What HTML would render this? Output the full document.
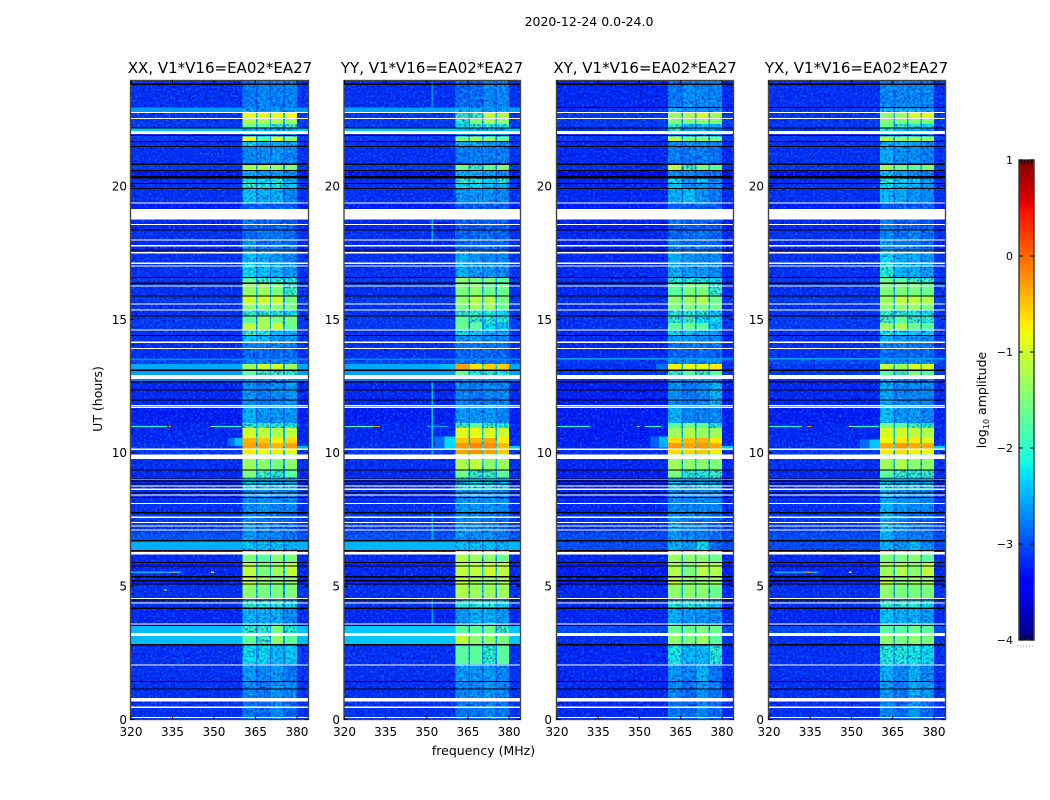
<!DOCTYPE html>
<html lang="en">
<head>
<meta charset="utf-8">
<title>2020-12-24 0.0-24.0 amplitude waterfalls</title>
<style>
html,body{margin:0;padding:0;background:#fff;width:1050px;height:800px;overflow:hidden}
svg{display:block;font-family:"DejaVu Sans","Liberation Sans",sans-serif;fill:#000}
</style>
</head>
<body>
<svg id="figure" xmlns="http://www.w3.org/2000/svg" width="1050" height="800" viewBox="0 0 1050 800">
  <defs>
    <filter id="speckle-light" x="0" y="0" width="100%" height="100%" color-interpolation-filters="sRGB">
      <feTurbulence type="fractalNoise" baseFrequency="0.45" numOctaves="1" seed="4"/>
      <feColorMatrix type="matrix" values="0 0 0 0 0  0 0 0 0 0.62  0 0 0 0 1  3.2 0 0 0 -1.45"/>
    </filter>
    <filter id="speckle-dark" x="0" y="0" width="100%" height="100%" color-interpolation-filters="sRGB">
      <feTurbulence type="fractalNoise" baseFrequency="0.45" numOctaves="1" seed="11"/>
      <feColorMatrix type="matrix" values="0 0 0 0 0  0 0 0 0 0  0 0 0 0 0.6  3.2 0 0 0 -1.45"/>
    </filter>
    <filter id="speckle-window" x="0" y="0" width="100%" height="100%" color-interpolation-filters="sRGB">
      <feTurbulence type="fractalNoise" baseFrequency="0.3" numOctaves="2" seed="23"/>
      <feColorMatrix type="matrix" values="0 0 0 0 0  0 0 0 0 0.9  0 0 0 0 0.95  3.6 0 0 0 -1.7"/>
    </filter>
  </defs>

  <text x="589" y="26" font-size="12.5" text-anchor="middle">2020-12-24 0.0-24.0</text>

  <text x="220" y="73" font-size="15" text-anchor="middle">XX, V1*V16=EA02*EA27</text>
  <text x="432" y="73" font-size="15" text-anchor="middle">YY, V1*V16=EA02*EA27</text>
  <text x="645" y="73" font-size="15" text-anchor="middle">XY, V1*V16=EA02*EA27</text>
  <text x="856.5" y="73" font-size="15" text-anchor="middle">YX, V1*V16=EA02*EA27</text>

  <g id="panels"></g>

  <text font-size="12.5" text-anchor="middle" transform="translate(102 399) rotate(-90)">UT (hours)</text>
  <text x="483.5" y="755" font-size="12.5" text-anchor="middle">frequency (MHz)</text>

  <g id="colorbar"></g>
  <text font-size="12.5" text-anchor="middle" transform="translate(986 400) rotate(-90)">log<tspan font-size="8" dy="3">10</tspan><tspan dy="-3"> amplitude</tspan></text>
  <line x1="1017" y1="646" x2="1035" y2="646" stroke="#999" stroke-width="1" stroke-dasharray="1 2"/>
</svg>

<script>
// ---------- data ----------
// Frequency column edges (MHz): background, then four spectral windows with small gaps.
const freqEdges = [320, 360.4, 365.2, 365.8, 370.2, 370.7, 375, 375.6, 380, 384];
const xTicks = [320, 335, 350, 365, 380];
const yTicks = [0, 5, 10, 15, 20];
const colorbarTicks = [1, 0, -1, -2, -3, -4];

// Time band edges (UT hours), top to bottom.
const timeEdges = [23.95,22.94,22.75,22.53,22.32,22.15,22.06,21.85,21.66,21.48,
  20.80,20.58,20.37,20.09,19.90,19.36,19.13,18.74,18.55,18.35,
  17.97,17.79,17.60,17.11,16.59,16.34,15.87,15.57,15.35,15.12,
  14.87,14.60,14.37,14.15,13.92,13.53,13.32,13.08,12.91,12.69,
  11.79,11.11,10.93,10.55,10.36,10.14,9.95,9.35,9.09,8.60,
  7.78,7.00,6.69,6.32,5.87,5.38,5.04,4.55,4.14,3.50,
  3.24,3.13,2.83,2.08,1.44,0.81,0.66,0];

// log10 amplitude per time band: [background, window 1, window 2, window 3, window 4]
const xxValues = [
[-3.15,-2.8,-2.7,-2.75,-2.7],[-2.62,-2.6,-2.6,-2.6,-2.6],[-3.1,-.85,-.9,-.85,-.8],[-3.1,-1.2,-1.25,-1.2,-1.3],[-3.1,-1.6,-1.7,-1.8,-1.8],
[-2.42,-2.35,-2.35,-2.35,-2.45],[-3.1,-2.6,-2.6,-2.6,-2.6],[-3.1,-.85,-1.7,-.95,-1.4],[-3.15,-2.2,-2.45,-2.45,-2.45],[-3.15,-2.7,-2.65,-2.6,-2.7],
[-3.1,-1.3,-1.2,-1.4,-1.5],[-3.3,-2.45,-2.6,-2.6,-2.7],[-3.15,-2,-2.2,-2,-2.35],[-3.15,-1.9,-2,-2,-2.35],[-3.15,-2.35,-2.45,-2.45,-2.7],
[-3.25,-3,-3,-3,-3],[-3.2,-3,-3,-3,-3],[-3.2,-2.8,-3,-2.95,-3],[-3.2,-2.9,-2.95,-2.95,-2.95],[-3.15,-2.9,-2.8,-2.8,-2.9],
[-3.2,-2.6,-2.9,-2.8,-2.9],[-3.2,-2.6,-2.7,-2.7,-2.8],[-3.15,-2.35,-2.45,-2.6,-2.7],[-3.15,-2.2,-2.35,-2.45,-2.6],[-3.1,-1.7,-1.8,-1.9,-2],
[-3.15,-1.35,-1.3,-1.5,-1.8],[-3.1,-1.05,-1,-1.05,-1.5],[-3.15,-1.4,-1.4,-1.4,-1.5],[-3.15,-1.9,-1.9,-2,-2.2],[-3.1,-1.7,-1.3,-1.5,-1.5],
[-3.1,-1.1,-1.2,-1.05,-1.6],[-3.15,-1.8,-2,-2.35,-2.45],[-3.15,-2.35,-2.35,-2.6,-2.6],[-3.15,-2.7,-2.7,-2.7,-2.8],[-3.15,-2.9,-2.9,-2.9,-2.9],
[-3,-2.7,-2.7,-2.7,-2.7],[-2.55,-1.3,-1,-1,-1.3],[-2.6,-1.7,-1.8,-1.8,-1.9],[-2.75,-2.6,-2.6,-2.6,-2.6],[-3.2,-2.65,-2.8,-2.7,-2.6],
[-3.25,-2.45,-2.6,-2.6,-2.6],[-3.2,-1.9,-1.8,-1.9,-2],[-3.2,-1,-1.1,-1.2,-1.1],[-3.2,-.4,-.5,-.7,-.6],[-3.15,-.3,-.3,-.4,-.3],
[-3.1,-.7,-.8,-.7,-.8],[-3.15,-1.3,-1.4,-1.5,-1.4],[-3.2,-1.5,-1.8,-1.9,-1.7],[-3.15,-2.2,-2.35,-2.35,-2.35],[-3.15,-2.7,-2.6,-2.7,-2.7],
[-3.1,-2.7,-2.8,-2.9,-2.95],[-2.95,-2.6,-2.7,-2.7,-2.8],[-2.52,-2.35,-2.35,-2.35,-2.45],[-3.2,-1.5,-1.7,-1.4,-1.5],[-3.2,-1.1,-1.5,-1.3,-1.1],
[-3.2,-1.05,-1.3,-1.4,-1.4],[-3.15,-1.4,-1.5,-1.5,-1.5],[-3.15,-1.9,-2,-2,-2.2],[-3.2,-2.45,-2.45,-2.45,-2.7],[-2.45,-1.9,-1.9,-1.5,-2],
[-2.45,-2,-2,-2,-2],[-2.45,-1.7,-1.8,-1.4,-1.7],[-3.15,-2.2,-2.2,-2.4,-2.3],[-3.15,-2.6,-2.7,-2.6,-2.8],[-3.15,-2.7,-2.8,-2.6,-2.7],
[-3.15,-2.8,-2.8,-2.8,-2.8],[-3.15,-2.8,-2.9,-2.7,-2.9]];

const yyValues = [
[-3.15,-2.9,-2.9,-2.7,-2.7],[-2.58,-2.45,-2.45,-2.6,-2.6],[-3.1,-1.9,-1.8,-1.1,-1.2],[-3.1,-2,-1.5,-1.3,-1.4],[-3.1,-2.2,-1.9,-2,-2],
[-2.4,-2.35,-2.35,-2.35,-2.45],[-3.1,-2.6,-2.6,-2.6,-2.6],[-3.1,-1.5,-1.3,-1.4,-1.6],[-3.15,-2.45,-2.45,-2.6,-2.7],[-3.15,-2.8,-2.75,-2.75,-2.8],
[-3.1,-1.6,-1.8,-1.7,-1.5],[-3.3,-2.45,-2.45,-2.6,-2.7],[-3.15,-1.9,-1.9,-2.2,-2],[-3.15,-2.2,-2.2,-2.35,-2.45],[-3.15,-2.6,-2.6,-2.65,-2.7],
[-3.25,-3,-3,-3,-3],[-3.2,-3,-3,-3,-3],[-3.2,-2.95,-3,-2.95,-3],[-3.2,-2.95,-2.95,-2.95,-2.95],[-3.15,-2.95,-2.9,-2.9,-2.95],
[-3.2,-2.9,-2.9,-2.9,-2.95],[-3.2,-2.9,-2.9,-2.9,-2.95],[-3.15,-2.45,-2.6,-2.7,-2.7],[-3.15,-2.45,-2.6,-2.6,-2.7],[-3.1,-1.4,-1.5,-1.5,-1.7],
[-3.15,-1.5,-1.4,-1.6,-1.6],[-3.1,-1.4,-1.2,-1.2,-1.5],[-3.15,-1.5,-1.3,-1.3,-1.6],[-3.15,-1.9,-1.9,-2,-2.2],[-3.1,-1.7,-1.8,-2,-2],
[-3.1,-1.6,-1.7,-2.2,-2.35],[-3.15,-2.2,-2.35,-2.45,-2.45],[-3.15,-2.6,-2.6,-2.7,-2.7],[-3.15,-2.8,-2.8,-2.8,-2.8],[-3.15,-2.9,-2.9,-2.9,-2.9],
[-3,-2.8,-2.8,-2.8,-2.8],[-2.55,-.3,-.65,-.55,-.55],[-2.6,-1.6,-2,-1.9,-2],[-2.75,-2.7,-2.7,-2.7,-2.7],[-3.2,-2.7,-2.8,-2.7,-2.7],
[-3.25,-2.6,-2.6,-2.6,-2.7],[-3.2,-1.8,-1.7,-1.8,-2],[-3.2,-.9,-.85,-.95,-1],[-3.2,-.5,-.4,-.35,-.7],[-3.15,-.25,-.15,-.2,-.45],
[-3.1,-.3,-.2,-.3,-.5],[-3.15,-1.2,-1.1,-1.4,-1.3],[-3.2,-1.6,-1.8,-1.8,-1.7],[-3.15,-2.2,-2.2,-2.2,-2.35],[-3.15,-2.6,-2.6,-2.6,-2.7],
[-3.1,-2.7,-2.7,-2.8,-2.9],[-2.95,-2.6,-2.7,-2.6,-2.8],[-2.48,-2.35,-2.35,-2.35,-2.45],[-3.2,-1.2,-1.3,-1.4,-1.6],[-3.2,-1.1,-1.1,-1,-1.1],
[-3.2,-1.1,-1.3,-1.3,-1.2],[-3.15,-1.2,-1.3,-1.3,-1.3],[-3.15,-2,-2,-2,-2.2],[-3.2,-2.6,-2.45,-2.45,-2.6],[-2.4,-1.7,-1.7,-1.6,-1.8],
[-2.4,-2,-2,-2,-2],[-2.4,-1.05,-1.4,-1.4,-1.5],[-3.15,-1.7,-1.7,-1.9,-1.7],[-3.15,-2.6,-2.6,-2.6,-2.7],[-3.15,-2.7,-2.7,-2.6,-2.7],
[-3.15,-2.8,-2.8,-2.8,-2.8],[-3.15,-2.8,-2.8,-2.7,-2.8]];

const xyValues = [
[-3.2,-2.8,-2.65,-2.7,-2.7],[-3.15,-2.45,-2.6,-2.6,-2.7],[-3.1,-1.3,-1.2,-.95,-1.3],[-3.1,-1.5,-1.5,-1.4,-1.5],[-3.1,-1.9,-2.45,-2.35,-2.45],
[-3.1,-1.9,-2.6,-2.45,-2.6],[-3.1,-2.6,-2.6,-2.6,-2.6],[-3.1,-1.1,-1.5,-1.4,-1.6],[-3.2,-2.7,-2.7,-2.7,-2.7],[-3.2,-2.75,-2.8,-2.75,-2.85],
[-3.15,-1.15,-1.8,-1.5,-1.7],[-3.4,-2.7,-2.7,-2.8,-2.9],[-3.2,-2.2,-2.6,-2.35,-2.7],[-3.2,-2.35,-2.7,-2.6,-2.7],[-3.2,-2.45,-2.35,-2.6,-2.8],
[-3.25,-2.95,-3,-3,-3],[-3.25,-3,-3,-3,-3],[-3.25,-2.8,-3,-2.95,-3],[-3.25,-2.95,-2.95,-2.95,-3],[-3.2,-2.95,-2.9,-2.8,-2.95],
[-3.25,-2.7,-2.9,-2.9,-2.9],[-3.25,-2.7,-2.8,-2.8,-2.9],[-3.2,-2.45,-2.6,-2.7,-2.7],[-3.2,-2.45,-2.6,-2.6,-2.7],[-3.15,-1.9,-2,-2,-2.2],
[-3.2,-1.7,-1.5,-1.5,-1.9],[-3.15,-1.4,-1.3,-1.2,-1.6],[-3.2,-1.5,-1.5,-1.5,-1.6],[-3.2,-2,-2,-2,-2.35],[-3.15,-1.9,-1.8,-2.2,-2.2],
[-3.15,-1.7,-1.6,-1.7,-2.35],[-3.2,-2.2,-2.35,-2.45,-2.6],[-3.2,-2.6,-2.6,-2.7,-2.7],[-3.2,-2.8,-2.8,-2.8,-2.8],[-3.2,-2.95,-2.95,-2.9,-2.95],
[-3.1,-2.7,-2.7,-2.7,-2.7],[-3.15,-.75,-.85,-.8,-.7],[-3.1,-1.8,-1.7,-1.8,-1.7],[-3.15,-2.6,-2.6,-2.6,-2.6],[-3.25,-2.65,-2.8,-2.7,-2.45],
[-3.25,-2.45,-2.7,-2.7,-2.7],[-3.25,-1.7,-1.6,-1.7,-2],[-3.25,-1.3,-1.2,-1.3,-1.3],[-3.25,-.6,-.45,-.4,-.7],[-3.2,-.25,-.3,-.25,-.35],
[-3.15,-.6,-.6,-.5,-.7],[-3.2,-1.3,-1.4,-1.4,-1.5],[-3.25,-1.5,-1.9,-2,-1.8],[-3.2,-2.35,-2.45,-2.35,-2.45],[-3.2,-2.7,-2.7,-2.7,-2.7],
[-3.15,-2.6,-2.8,-2.8,-2.95],[-3,-2.6,-2.7,-2.7,-2.9],[-3,-2.45,-2.6,-2.2,-2.9],[-3.2,-1.3,-1.4,-1.4,-1.6],[-3.25,-1.2,-1.5,-1.1,-1.2],
[-3.25,-1.1,-1.4,-1.3,-1.3],[-3.2,-1.4,-1.4,-1.4,-1.6],[-3.2,-2,-2,-2,-2.35],[-3.2,-2.45,-2.6,-2.6,-2.7],[-3,-1.6,-1.6,-1.5,-1.6],
[-3,-2,-2,-2,-2],[-3.15,-1.4,-1.5,-1.3,-1.7],[-3.2,-2.1,-2.4,-2.4,-2],[-3.2,-2.6,-2.7,-2.45,-2.8],[-3.2,-2.7,-2.9,-2.6,-2.8],
[-3.2,-2.8,-2.8,-2.8,-2.8],[-3.2,-2.8,-2.9,-2.7,-2.9]];

const yxValues = [
[-3.15,-2.7,-2.7,-2.7,-2.7],[-3.1,-2.45,-2.45,-2.45,-2.6],[-3.1,-1.4,-1.3,-.9,-.9],[-3.1,-1.5,-1.5,-1.5,-1.5],[-3.1,-1.6,-1.8,-2,-2.2],
[-3.1,-2,-2.35,-2.45,-2.6],[-3.1,-2.6,-2.6,-2.6,-2.6],[-3.1,-1.2,-1.4,-1.3,-1.4],[-3.15,-2.45,-2.45,-2.6,-2.7],[-3.15,-2.5,-2.65,-2.65,-2.75],
[-3.1,-1.3,-1.6,-1.7,-1.5],[-3.35,-2.35,-2.6,-2.7,-2.8],[-3.15,-2,-2.2,-2.35,-2.6],[-3.15,-2.2,-2.35,-2.45,-2.6],[-3.15,-2.4,-2.5,-2.6,-2.7],
[-3.25,-2.95,-3,-3,-3],[-3.2,-3,-3,-3,-3],[-3.2,-2.7,-2.95,-2.95,-3],[-3.2,-2.8,-2.95,-2.95,-2.95],[-3.15,-2.7,-2.9,-2.7,-2.9],
[-3.2,-2.6,-2.8,-2.8,-2.9],[-3.2,-2.6,-2.7,-2.7,-2.8],[-3.15,-2.2,-2.45,-2.45,-2.6],[-3.15,-2,-2.45,-2.45,-2.6],[-3.1,-1.6,-1.7,-1.8,-1.9],
[-3.15,-1.5,-1.5,-1.5,-1.6],[-3.1,-1.3,-1.1,-1.1,-1.2],[-3.15,-1.4,-1.4,-1.3,-1.5],[-3.15,-1.9,-1.9,-2,-2.2],[-3.1,-1.8,-1.7,-1.8,-1.9],
[-3.1,-1.3,-1.2,-1.6,-1.7],[-3.15,-2,-2.2,-2.35,-2.35],[-3.15,-2.45,-2.6,-2.7,-2.7],[-3.15,-2.7,-2.7,-2.8,-2.8],[-3.15,-2.9,-2.9,-2.9,-2.9],
[-3,-2.7,-2.7,-2.7,-2.7],[-3.1,-1.1,-1.3,-.9,-.95],[-3.1,-1.7,-1.8,-1.5,-1.7],[-3.15,-2.45,-2.6,-2.6,-2.7],[-3.2,-2.5,-2.7,-2.7,-2.7],
[-3.25,-2.35,-2.6,-2.6,-2.7],[-3.2,-1.6,-1.7,-1.8,-2],[-3.2,-.95,-1,-1.1,-1.2],[-3.2,-.8,-.7,-.7,-.9],[-3.15,-.35,-.25,-.35,-.35],
[-3.1,-.7,-.6,-.7,-.8],[-3.15,-1.3,-1.2,-1.4,-1.4],[-3.2,-1.7,-1.8,-1.9,-1.8],[-3.15,-2.2,-2.35,-2.35,-2.35],[-3.15,-2.45,-2.6,-2.7,-2.7],
[-3.1,-2.45,-2.7,-2.9,-2.9],[-3,-2.45,-2.7,-2.7,-2.8],[-3,-2.45,-2.6,-2.35,-2.7],[-3.2,-1.5,-1.5,-1.4,-1.7],[-3.2,-1.3,-1.2,-1.4,-1.1],
[-3.2,-1.1,-1.4,-1.3,-1.3],[-3.15,-1.4,-1.5,-1.5,-1.5],[-3.15,-1.9,-2,-2,-2.2],[-3.2,-2.35,-2.45,-2.45,-2.6],[-3,-1.7,-1.7,-1.6,-1.7],
[-3,-2,-2,-2,-2],[-3.15,-1.4,-1.5,-1.4,-1.5],[-3.15,-2,-2,-2.1,-2.2],[-3.15,-2.45,-2.7,-2.45,-2.7],[-3.15,-2.6,-2.8,-2.45,-2.6],
[-3.15,-2.8,-2.8,-2.8,-2.8],[-3.15,-2.7,-2.9,-2.6,-2.9]];

// Flagged (blank) time intervals, UT hours: [start, end]
const whiteBands = [[21.94,22.06],[18.74,19.13],[17.73,17.79],[17.47,17.53],[12.76,12.91],[9.76,9.94],[6.18,6.28],[3.13,3.24],[0.67,0.80]];
const whiteLines = [22.75,22.53,19.36,18.56,17.97,17.10,17.00,16.25,15.57,15.35,14.60,14.14,13.91,11.76,11.69,10.13,9.00,8.75,8.63,8.41,8.10,7.58,7.39,7.26,7.11,4.54,4.36,3.58,2.05,0.46,0.07];
const blackBands = [[20.27,20.37],[2.78,2.83]];
const blackLines = [23.81,22.17,21.89,21.66,21.48,20.81,20.58,20.09,19.91,18.34,17.59,16.57,16.35,15.88,15.12,14.39,13.09,12.66,12.35,11.97,9.35,9.01,8.93,8.83,8.49,8.32,7.75,6.70,6.34,5.88,5.75,5.35,5.20,5.08,4.48,4.17,3.53,1.43,1.14];
const crossHandBlackLines = [22.94];

// Narrow interference features per panel: [start MHz, end MHz, start h, end h, log10 amplitude]
const xxFeatures = [[320,333,10.96,11.0,-2.1],[333.5,334.5,10.96,11.0,-.1],[349,350,10.96,11.0,-.9],[350,360,10.96,11.0,-2.1],[355,357.5,10.25,10.55,-2.85],[357.5,360.4,10.25,10.55,-2.45],[380,384,10.1,10.25,-2.5],[320,338,5.5,5.54,-2.5],[335,336,5.5,5.54,-.2],[349,350,5.5,5.54,-.9],[332,333,4.83,4.87,-1],[320,384,13.48,13.53,-2.7]];
const yyFeatures = [[320,333,10.96,11.0,-1.9],[331,332.5,10.96,11.0,-.2],[350,358,10.96,11.0,-2.6],[351.8,352.3,9.95,12.69,-2.4],[351.8,352.3,6.3,7.8,-2.5],[351.8,352.3,3.6,4.6,-2.6],[351.8,352.3,17.9,19,-2.5],[353,356.5,10.14,10.6,-2.85],[356.5,360.4,10.14,10.6,-2.3],[380,384,10.1,10.25,-2.4],[355,360.4,13.08,13.32,-2.45],[320,384,13.48,13.53,-2.7],[351.8,352.3,22.9,23.9,-2.7]];
const xyFeatures = [[320,332,10.96,11.0,-2.1],[349,350,10.96,11.0,-1.6],[352,358,10.96,11.0,-2.1],[354,357,10.2,10.6,-2.9],[357,360.4,10.2,10.6,-2.5],[380,384,10.1,10.25,-2.4],[320,384,13.5,13.55,-2.6],[356,360.4,13.08,13.32,-2.85]];
const yxFeatures = [[320,332,10.96,11.0,-2.1],[334,335.5,10.96,11.0,-.2],[349,350,10.96,11.0,-.9],[350,360,10.96,11.0,-2.1],[353,356.5,10.15,10.5,-2.85],[356.5,360.4,10.15,10.5,-2.4],[380,384,10.1,10.25,-2.4],[322,338,5.5,5.54,-2.5],[333.5,335,5.5,5.54,-.2],[349,350,5.5,5.54,-.9],[320,384,13.5,13.55,-2.6]];

// ---------- layout and scales ----------
const SVG_NS = 'http://www.w3.org/2000/svg';
const panelBoxes = [
  {key: 'xx', left: 131, right: 308, values: xxValues, features: xxFeatures, cross: false, labelRight: 127},
  {key: 'yy', left: 344.5, right: 520, values: yyValues, features: yyFeatures, cross: false, labelRight: 340},
  {key: 'xy', left: 557, right: 733, values: xyValues, features: xyFeatures, cross: true, labelRight: 552},
  {key: 'yx', left: 769, right: 945, values: yxValues, features: yxFeatures, cross: true, labelRight: 764}
];
const plotTop = 80.5, plotBottom = 719.5;
const freqMin = 320, freqMax = 384, timeMin = 0, timeMax = 23.95;
const colorMin = -4, colorMax = 1;
const cbLeft = 1019, cbRight = 1034, cbTop = 160, cbBottom = 640;
// amplitudes above this are smooth signal; below it the noise grain shows through
const smoothAbove = -1.75, smoothBandAbove = -2.8;

function yScale(h) { return plotBottom - (h - timeMin) / (timeMax - timeMin) * (plotBottom - plotTop); }
function xScaleFor(box) { return function (f) { return box.left + (f - freqMin) / (freqMax - freqMin) * (box.right - box.left); }; }
function cbScale(v) { return cbBottom - (v - colorMin) / (colorMax - colorMin) * (cbBottom - cbTop); }

function ramp(t, pts) {
  for (let i = 1; i < pts.length; i++) {
    if (t <= pts[i][0]) {
      const a = pts[i - 1], b = pts[i];
      return a[1] + (b[1] - a[1]) * (t - a[0]) / (b[0] - a[0]);
    }
  }
  return pts[pts.length - 1][1];
}
function jet(v) {
  const t = Math.max(0, Math.min(1, (v - colorMin) / (colorMax - colorMin)));
  const r = ramp(t, [[0,0],[.35,0],[.66,1],[.89,1],[1,.5]]);
  const g = ramp(t, [[0,0],[.125,0],[.375,1],[.64,1],[.91,0],[1,0]]);
  const b = ramp(t, [[0,.5],[.11,1],[.34,1],[.65,0],[1,0]]);
  return 'rgb(' + Math.round(r * 255) + ',' + Math.round(g * 255) + ',' + Math.round(b * 255) + ')';
}
function make(tag, attrs, parent) {
  const el = document.createElementNS(SVG_NS, tag);
  for (const k in attrs) el.setAttribute(k, attrs[k]);
  parent.appendChild(el);
  return el;
}
// value shown in the thin gaps between spectral windows
function gapValue(a, b) { return (a + b) / 2 * 0.35 - 2.0; }

function drawCell(group, x, f0, f1, t0, t1, v) {
  const rect = make('rect', {x: x(f0), y: yScale(t0), width: x(f1) - x(f0), height: yScale(t1) - yScale(t0), fill: jet(v)}, group);
  
  
}
function drawFlag(group, x, t0, t1, color, name) {
  const rect = make('rect', {x: x(freqMin), y: yScale(t1), width: x(freqMax) - x(freqMin), height: yScale(t0) - yScale(t1), fill: color}, group);
  
  
}

const panelsRoot = document.getElementById('panels');
panelBoxes.forEach(function (box) {
  const x = xScaleFor(box);
  const panel = make('g', {}, panelsRoot);
  
  

  const cells = make('g', {'shape-rendering': 'crispEdges'}, panel);
  
  

  // decorative receiver-noise grain over the low-amplitude cells
  const grainAttrs = {x: box.left, y: plotTop, width: box.right - box.left, height: plotBottom - plotTop};
  const grainLight = make('rect', Object.assign({filter: 'url(#speckle-light)', opacity: .5}, grainAttrs), panel);
  
  
  const grainDark = make('rect', Object.assign({filter: 'url(#speckle-dark)', opacity: .6}, grainAttrs), panel);
  
  
  const grainWindow = make('rect', {filter: 'url(#speckle-window)', opacity: .4, x: x(freqEdges[1]), y: plotTop, width: x(freqEdges[8]) - x(freqEdges[1]), height: plotBottom - plotTop}, panel);
  
  

  const smoothCells = make('g', {'shape-rendering': 'crispEdges'}, panel);
  
  

  box.values.forEach(function (row, i) {
    const t0 = timeEdges[i], t1 = timeEdges[i + 1];
    const colVals = [row[0], row[1], gapValue(row[1], row[2]), row[2], gapValue(row[2], row[3]), row[3], gapValue(row[3], row[4]), row[4], row[0]];
    colVals.forEach(function (v, c) {
      const isBackground = c === 0 || c === colVals.length - 1;
      const smooth = v >= smoothAbove || (isBackground && v > smoothBandAbove);
      drawCell(smooth ? smoothCells : cells, x, freqEdges[c], freqEdges[c + 1], t0, t1, v);
    });
  });

  const marks = make('g', {'shape-rendering': 'crispEdges'}, panel);
  
  

  box.features.forEach(function (f) {
    drawCell(marks, x, f[0], f[1], f[3], f[2], f[4]);
  });
  const thin = 0.04;
  whiteLines.forEach(function (h) { drawFlag(marks, x, h - thin / 2, h + thin / 2, '#fff', 'flagged-white-line'); });
  whiteBands.forEach(function (b) { drawFlag(marks, x, b[0], b[1], '#fff', 'flagged-white-band'); });
  blackLines.forEach(function (h) { drawFlag(marks, x, h - thin / 2, h + thin / 2, '#000', 'flagged-black-line'); });
  blackBands.forEach(function (b) { drawFlag(marks, x, b[0], b[1], '#000', 'flagged-black-band'); });
  if (box.cross) crossHandBlackLines.forEach(function (h) { drawFlag(marks, x, h - thin / 2, h + thin / 2, '#000', 'flagged-black-line'); });

  // axes frame
  const frame = make('rect', {x: box.left - .5, y: plotTop, width: box.right - box.left + 1, height: plotBottom - plotTop, fill: 'none', stroke: '#444', 'stroke-width': 1.4}, panel);
  
  

  // ticks and labels
  xTicks.forEach(function (tick) {
    const px = x(tick);
    const lower = make('line', {x1: px, x2: px, y1: plotBottom, y2: plotBottom - 4, stroke: '#000', 'stroke-width': 1}, panel);
    
    
    const upper = make('line', {x1: px, x2: px, y1: plotTop, y2: plotTop + 4, stroke: '#000', 'stroke-width': 1}, panel);
    
    
    const label = make('text', {x: px, y: 736, 'font-size': 12, 'text-anchor': 'middle'}, panel);
    label.textContent = String(tick);
    
    
  });
  yTicks.forEach(function (tick) {
    const py = yScale(tick);
    const left = make('line', {x1: box.left - .5, x2: box.left + 3.5, y1: py, y2: py, stroke: '#000', 'stroke-width': 1}, panel);
    
    
    const right = make('line', {x1: box.right + .5, x2: box.right - 3.5, y1: py, y2: py, stroke: '#000', 'stroke-width': 1}, panel);
    
    
    const label = make('text', {x: box.labelRight, y: py + 4.5, 'font-size': 12, 'text-anchor': 'end'}, panel);
    label.textContent = String(tick);
    
    
  });
});

// ---------- colorbar ----------
const cbRoot = document.getElementById('colorbar');
const cbSteps = 120;
const cbCells = make('g', {'shape-rendering': 'crispEdges'}, cbRoot);


for (let i = 0; i < cbSteps; i++) {
  const v0 = colorMin + (colorMax - colorMin) * i / cbSteps;
  const v1 = colorMin + (colorMax - colorMin) * (i + 1) / cbSteps;
  const seg = make('rect', {x: cbLeft, y: cbScale(v1), width: cbRight - cbLeft, height: cbScale(v0) - cbScale(v1) + .5, fill: jet((v0 + v1) / 2)}, cbCells);
  
  
}
const cbFrame = make('rect', {x: cbLeft, y: cbTop, width: cbRight - cbLeft, height: cbBottom - cbTop, fill: 'none', stroke: '#333', 'stroke-width': 1.4}, cbRoot);


colorbarTicks.forEach(function (tick) {
  const py = cbScale(tick);
  const left = make('line', {x1: cbLeft, x2: cbLeft + 4, y1: py, y2: py, stroke: '#000', 'stroke-width': 1}, cbRoot);
  
  
  const right = make('line', {x1: cbRight, x2: cbRight - 4, y1: py, y2: py, stroke: '#000', 'stroke-width': 1}, cbRoot);
  
  
  const label = make('text', {x: cbLeft - 6, y: py + 4, 'font-size': 11, 'text-anchor': 'end'}, cbRoot);
  label.textContent = tick < 0 ? '\u2212' + Math.abs(tick) : String(tick);
  
  
});
for (let i = 1; i <= 4; i++) {
  const px = cbLeft + (cbRight - cbLeft) * i / 5;
  const topTick = make('line', {x1: px, x2: px, y1: cbTop, y2: cbTop + 4, stroke: '#000', 'stroke-width': 1}, cbRoot);
  
  
  const bottomTick = make('line', {x1: px, x2: px, y1: cbBottom, y2: cbBottom - 4, stroke: '#000', 'stroke-width': 1}, cbRoot);
  
  
}
</script>
</body>
</html>
